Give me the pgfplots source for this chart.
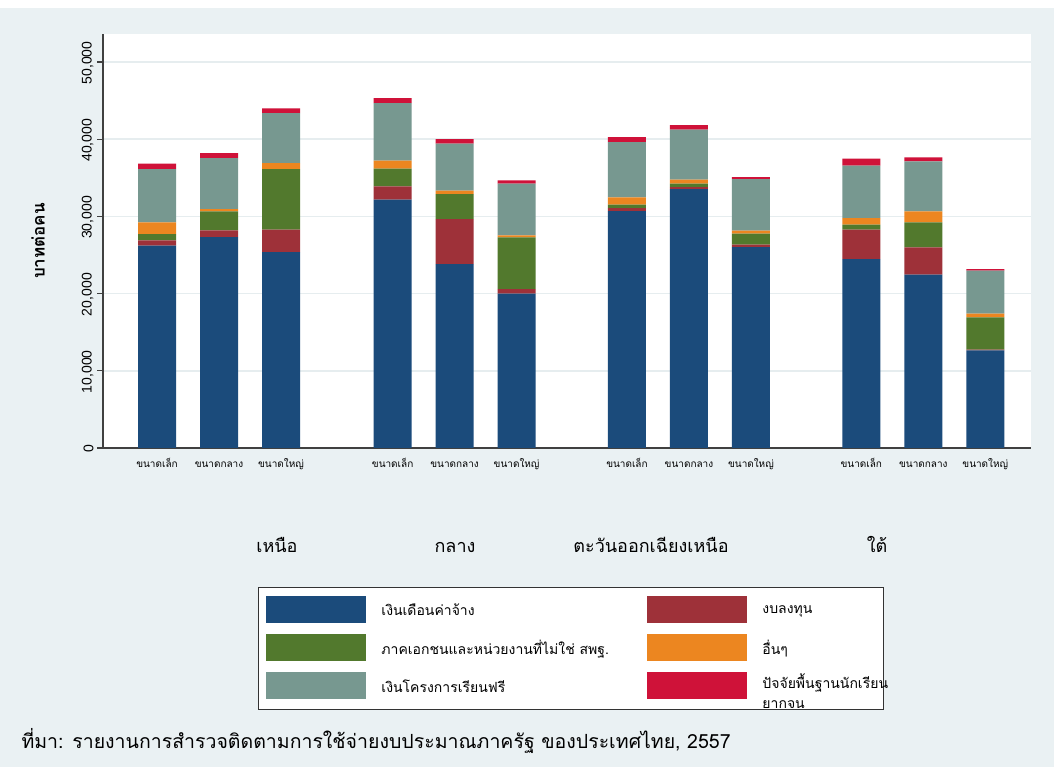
\documentclass[border=0pt]{standalone}
\usepackage{fontspec}
\setmainfont{Liberation Sans}
\newfontfamily\thaifont[Script=Thai]{Loma}
\usepackage{pgfplots}
\pgfplotsset{compat=1.18}
\definecolor{bgblue}{HTML}{EAF1F3}
\definecolor{gridc}{HTML}{E6EDEF}
\definecolor{cnavy}{HTML}{1B4B7B}
\definecolor{cmaroon}{HTML}{9E3139}
\definecolor{cgreen}{HTML}{52792D}
\definecolor{corange}{HTML}{EC8620}
\definecolor{cteal}{HTML}{779890}
\definecolor{ccran}{HTML}{CF1239}
\begin{document}
\begin{tikzpicture}
\fill[white] (0pt,0pt) rectangle (1054pt,767pt);
\fill[bgblue] (0pt,0pt) rectangle (1054pt,759pt);
\begin{axis}[
  at={(103pt,319pt)}, anchor=south west,
  scale only axis, width=928pt, height=414pt,
  xmin=-0.871, xmax=14.097, ymin=0, ymax=53630,
  ybar stacked, bar width=38pt,
  axis x line*=bottom, axis y line*=left,
  axis line style={draw=black!75, line width=1.3pt, -},
  axis background/.style={fill=white},
  xtick={0,1,2,3.8,4.8,5.8,7.58,8.58,9.58,11.36,12.36,13.36},
  xticklabels={ขนาดเล็ก,ขนาดกลาง,ขนาดใหญ่,ขนาดเล็ก,ขนาดกลาง,ขนาดใหญ่,ขนาดเล็ก,ขนาดกลาง,ขนาดใหญ่,ขนาดเล็ก,ขนาดกลาง,ขนาดใหญ่},
  x tick style={draw=none},
  xticklabel style={font=\thaifont\fontsize{10}{12}\selectfont, anchor=base, yshift=-14pt},
  ytick={0,10000,20000,30000,40000,50000},
  y tick style={draw=black!75, line width=1.3pt},
  tick align=outside, major tick length=6pt,
  yticklabel style={rotate=90, anchor=south, xshift=-1pt, font=\fontsize{14}{16}\selectfont},
  scaled y ticks=false,
  y tick label style={/pgf/number format/.cd, 1000 sep={,}, assume math mode=true},
  ymajorgrids, grid style={draw=gridc, line width=1.5pt},
  ylabel={\thaifont\bfseries บาทต่อคน},
  ylabel style={at={(axis description cs:-0.070,0.5)}, anchor=center, font=\fontsize{17}{19}\selectfont},
  clip=false,
  legend columns=2,
  legend cell align=left,
  legend image code/.code={\fill[#1,draw=none] (0pt,-13pt) rectangle (100pt,14pt); \path (114pt,0pt);},
  legend style={at={(rel axis cs:0.167,-0.3357)}, anchor=north west,
    draw=black!80, line width=1pt, fill=white,
    font=\thaifont\fontsize{14}{17}\selectfont,
    inner xsep=8pt, inner ysep=9pt, row sep=11pt,
    nodes={inner sep=1pt},
    /tikz/every even column/.append style={column sep=0pt}},
]
\addplot+[fill=cnavy, draw=none] coordinates {(0,26205) (1,27332) (2,25389) (3.8,32163) (4.8,23834) (5.8,19987) (7.58,30699) (8.58,33549) (9.58,26036) (11.36,24482) (12.36,22448) (13.36,12642)};
\addlegendentry{\makebox[265pt][l]{เงินเดือนค่าจ้าง}}
\addplot+[fill=cmaroon, draw=none] coordinates {(0,686) (1,855) (2,2888) (3.8,1723) (4.8,5829) (5.8,609) (7.58,389) (8.58,259) (9.58,298) (11.36,3795) (12.36,3536) (13.36,91)};
\addlegendentry{\makebox[112pt][l]{งบลงทุน}}
\addplot+[fill=cgreen, draw=none] coordinates {(0,829) (1,2461) (2,7863) (3.8,2293) (4.8,3239) (5.8,6684) (7.58,428) (8.58,428) (9.58,1425) (11.36,648) (12.36,3239) (13.36,4184)};
\addlegendentry{\makebox[265pt][l]{ภาคเอกชนและหน่วยงานที่ไม่ใช่ สพฐ.}}
\addplot+[fill=corange, draw=none] coordinates {(0,1503) (1,311) (2,777) (3.8,1036) (4.8,427) (5.8,259) (7.58,945) (8.58,518) (9.58,389) (11.36,868) (12.36,1425) (13.36,479)};
\addlegendentry{\makebox[112pt][l]{อื่นๆ}}
\addplot+[fill=cteal, draw=none] coordinates {(0,6917) (1,6606) (2,6477) (3.8,7474) (4.8,6088) (5.8,6697) (7.58,7176) (8.58,6477) (9.58,6697) (11.36,6774) (12.36,6476) (13.36,5570)};
\addlegendentry{\makebox[265pt][l]{เงินโครงการเรียนฟรี}}
\addplot+[fill=ccran, draw=none] coordinates {(0,686) (1,647) (2,596) (3.8,648) (4.8,609) (5.8,427) (7.58,648) (8.58,608) (9.58,259) (11.36,907) (12.36,518) (13.36,221)};
\addlegendentry{\makebox[112pt][l]{\begin{tabular}[c]{@{}l@{}}ปัจจัยพื้นฐานนักเรียน\\[3pt]ยากจน\end{tabular}}}
\end{axis}
\node[anchor=base, font=\thaifont\fontsize{18}{20}\selectfont] at (277pt,214pt) {เหนือ};
\node[anchor=base, font=\thaifont\fontsize{18}{20}\selectfont] at (455pt,214pt) {กลาง};
\node[anchor=base, font=\thaifont\fontsize{18}{20}\selectfont] at (651pt,214pt) {ตะวันออกเฉียงเหนือ};
\node[anchor=base, font=\thaifont\fontsize{18}{20}\selectfont] at (877pt,214pt) {ใต้};
\node[anchor=base west, font=\thaifont\fontsize{19.5}{22}\selectfont] at (18pt,18pt) {ที่มา: รายงานการสำรวจติดตามการใช้จ่ายงบประมาณภาครัฐ ของประเทศไทย, 2557};
\end{tikzpicture}
\end{document}
